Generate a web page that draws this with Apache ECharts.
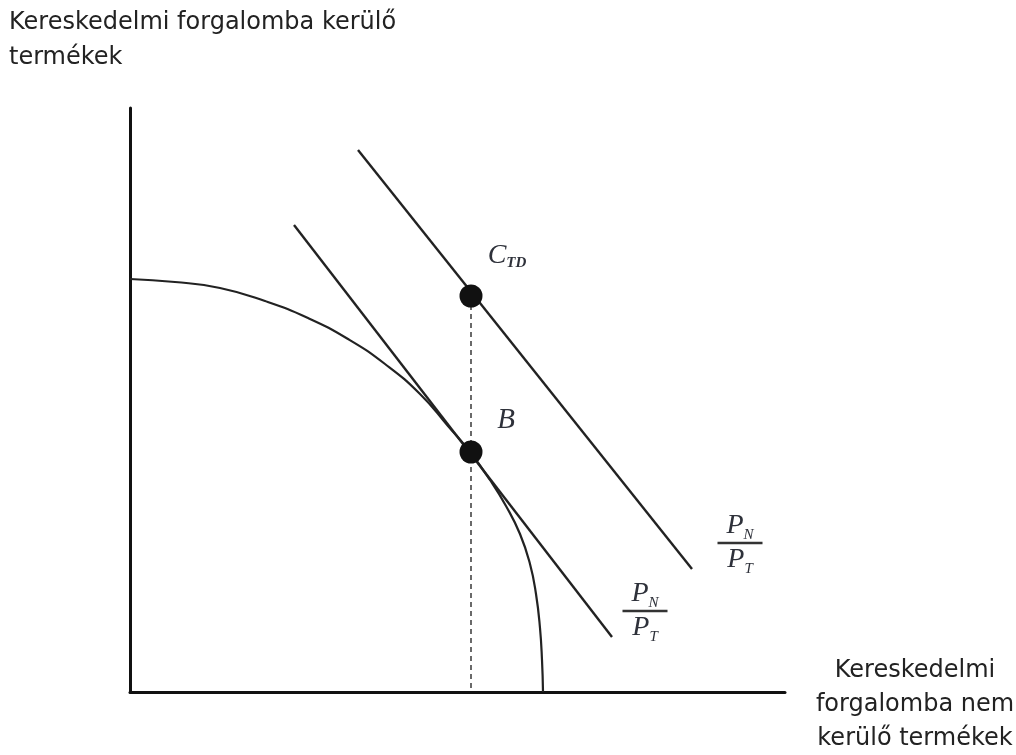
<!DOCTYPE html>
<html>
<head>
<meta charset="utf-8">
<script src="https://cdn.jsdelivr.net/npm/echarts@6/dist/echarts.min.js"></script>
<style>
  html, body { margin: 0; background: #fff; }
  #chart { width: 1016px; height: 755px; }
</style>
</head>
<body>
<div id="chart"></div>
<script>
// production possibility frontier
const ppfCurve = [
  [0, 413], [45, 410], [90, 404], [135, 391], [178, 374], [218, 353],
  [255, 328], [290, 298], [318, 266], [340, 240], [360, 212], [376, 186],
  [390, 158], [400, 128], [406, 98], [410, 64], [412, 32], [413, 0]
]
// price lines (P_N / P_T)
const lowerPriceLine = [[164, 467], [482, 55]]
const upperPriceLine = [[228, 542], [562, 123]]
// points
const pointB = [341, 240]
const pointC = [341, 396]
const dropLine = [[341, 396], [341, 0]]

const yTitle = 'Kereskedelmi forgalomba kerülő\ntermékek'
const xTitle = 'Kereskedelmi\nforgalomba nem\nkerülő termékek'

const serif = 'Liberation Serif'
const labelColor = '#2e313a'
const ink = '#222'

const fracLabel = {
  show: true,
  position: 'inside',
  formatter: '{p|P}{s|N}\n{bar|}\n{p|P}{s|T}',
  align: 'center',
  rich: {
    p: { fontFamily: serif, fontStyle: 'italic', fontSize: 28, lineHeight: 24, color: labelColor },
    s: { fontFamily: serif, fontStyle: 'italic', fontSize: 15, lineHeight: 24, verticalAlign: 'bottom', color: labelColor, padding: [0, 0, -5, 0] },
    bar: { width: 45, height: 2.5, backgroundColor: '#333', lineHeight: 10 }
  }
}

const chart = echarts.init(document.getElementById('chart'))

chart.setOption({
  animation: false,
  backgroundColor: '#fff',
  grid: { left: 130, right: 231, top: 108, bottom: 63 },
  xAxis: {
    type: 'value', min: 0, max: 655,
    axisLine: { show: true, lineStyle: { color: '#111', width: 3 } },
    axisTick: { show: false }, axisLabel: { show: false }, splitLine: { show: false }
  },
  yAxis: {
    type: 'value', min: 0, max: 584,
    axisLine: { show: true, lineStyle: { color: '#111', width: 3 } },
    axisTick: { show: false }, axisLabel: { show: false }, splitLine: { show: false }
  },
  graphic: [
    {
      type: 'text', x: 9, y: 5,
      style: { text: yTitle, fontFamily: 'DejaVu Sans', fontSize: 24, lineHeight: 35, fill: '#222' }
    },
    {
      type: 'text', x: 915, y: 654,
      style: { text: xTitle, fontFamily: 'DejaVu Sans', fontSize: 24, lineHeight: 34, fill: '#222', align: 'center' }
    }
  ],
  series: [
    {
      type: 'line', data: ppfCurve, smooth: 0.5, symbol: 'none',
      lineStyle: { color: ink, width: 2.2 }
    },
    {
      type: 'line', data: lowerPriceLine, symbol: 'none',
      lineStyle: { color: ink, width: 2.4 }
    },
    {
      type: 'line', data: upperPriceLine, symbol: 'none',
      lineStyle: { color: ink, width: 2.4 }
    },
    {
      type: 'line', data: dropLine, symbol: 'none',
      lineStyle: { color: '#444', width: 1.6, type: [5, 4] }
    },
    {
      type: 'scatter', symbolSize: 23,
      itemStyle: { color: '#111', opacity: 1 },
      data: [
        {
          value: pointC,
          label: {
            show: true, position: 'inside', offset: [36, -40],
            formatter: '{c|C}{s|TD}',
            rich: {
              c: { fontFamily: serif, fontStyle: 'italic', fontSize: 28, lineHeight: 30, color: labelColor },
              s: { fontFamily: serif, fontStyle: 'italic', fontWeight: 'bold', fontSize: 15, lineHeight: 30, verticalAlign: 'bottom', color: labelColor }
            }
          }
        },
        {
          value: pointB,
          label: {
            show: true, position: 'inside', offset: [35, -32],
            formatter: 'B',
            fontFamily: serif, fontStyle: 'italic', fontSize: 29, color: labelColor
          }
        }
      ],
      z: 5
    },
    {
      type: 'scatter', symbolSize: 1, itemStyle: { color: 'rgba(0,0,0,0)', opacity: 1 },
      data: [
        { value: upperPriceLine[1], label: Object.assign({ offset: [48, -26] }, fracLabel) },
        { value: lowerPriceLine[1], label: Object.assign({ offset: [33, -26] }, fracLabel) }
      ]
    }
  ]
})
</script>
</body>
</html>
